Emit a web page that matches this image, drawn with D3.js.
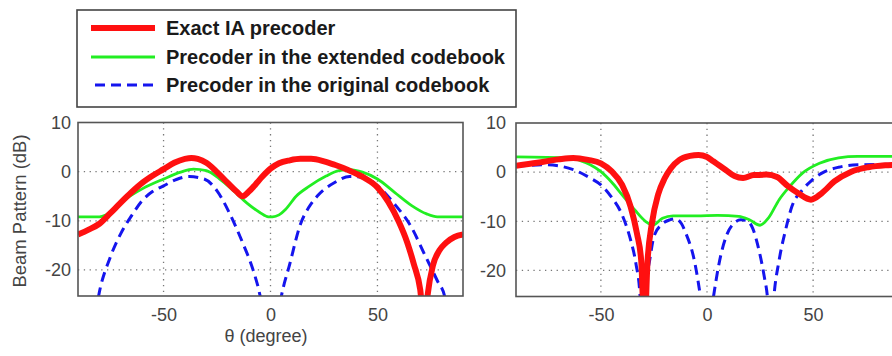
<!DOCTYPE html>
<html><head><meta charset="utf-8">
<script src="https://cdn.jsdelivr.net/npm/d3@7"></script>
<style>
body{margin:0;background:#fff;}
svg{display:block;font-family:"Liberation Sans",Arial,sans-serif;}
</style></head>
<body><svg id="c" width="892" height="356"></svg>
<script>
// ---------- data ----------
const xTicks = [-50, 0, 50];
const yTicks = [10, 0, -10, -20];
const legendLabels = ["Exact IA precoder", "Precoder in the extended codebook", "Precoder in the original codebook"];

// Left panel
const leftExactTheta = [-90,-85,-80,-75,-70,-65,-60,-55,-50,-45,-40,-37,-34,-30,-25,-20,-16,-13,-10,-7,-4,0,4,9,14,19,25,30,36,40,44,50,55,60,64,67,70,72,73.5,76,79,82,86,90];
const leftExactDb    = [-12.8,-11.8,-10.6,-8.5,-6.3,-4.2,-2.3,-0.8,0.5,1.8,2.6,2.8,2.6,1.8,-0.1,-2.3,-4.0,-5.0,-4.0,-2.6,-1.1,0.6,1.7,2.3,2.6,2.6,2.1,1.4,0.4,-0.4,-1.3,-3.2,-6.1,-10.2,-14.5,-18.8,-24,-32,-25,-19,-16,-14.5,-13.3,-12.8];
const leftExtTheta = [-90,-80,-77,-73,-68,-60,-50,-42,-36,-30,-24,-17,-11,-5,-1,1,4,7,12,18,26,32,37,43,50,58,66,73,78,90];
const leftExtDb    = [-9.2,-9.2,-8.8,-7.6,-5.7,-3.5,-1.5,-0.1,0.5,0.2,-1.4,-4.0,-6.4,-8.3,-9.2,-9.2,-8.8,-7.7,-5.0,-3.0,-0.9,0.2,0.4,-0.1,-1.5,-4.2,-6.9,-8.6,-9.2,-9.2];
const leftOrigTheta = [-83,-80,-75,-70,-65,-60,-55,-50,-44,-38,-31,-25,-19,-13,-8,-5,0,5,9,14,18,22,30,37,44,50,58,66,72,78,81.5,84];
const leftOrigDb    = [-32,-24.5,-17.5,-12.6,-9.0,-5.9,-4.0,-2.9,-1.6,-1.0,-1.5,-3.9,-8.6,-14.5,-20.2,-25,-40,-25.5,-18.8,-10.7,-7.2,-4.9,-2.2,-1.0,-1.2,-2.9,-6.6,-11.4,-16.8,-22.2,-25.5,-32];

// Right panel
const rightExactTheta = [-90,-80,-70,-63,-56,-50,-45,-40,-36,-33,-31,-29.5,-28,-26,-23,-20,-17,-13,-8,-4,0,3,6,9,13,17,22,28,33,38,43,49,54,60,68,76,84,90];
const rightExactDb    = [1.3,1.9,2.6,2.9,2.5,1.8,0.2,-2.6,-7,-12.5,-18,-32,-18,-10.5,-4.5,-1.3,0.8,2.5,3.3,3.5,3.1,2.2,1.3,0.4,-0.8,-1.2,-0.6,-0.5,-1.0,-2.8,-4.3,-5.6,-4.3,-1.9,0.1,1.0,1.4,1.5];
const rightExtTheta = [-90,-65,-60,-55,-50,-45,-40,-34,-29,-25.5,-21,-16,-5,5,15,20,25,29,34,39,45,53,62,71,90];
const rightExtDb    = [3.1,2.9,2.4,1.5,0.1,-2.0,-4.6,-7.7,-10.0,-10.8,-9.4,-8.9,-8.9,-8.8,-9.0,-9.7,-10.8,-9.3,-5.6,-2.9,-0.2,1.8,2.9,3.2,3.2];
const rightOrigTheta = [-90,-76,-63,-55,-50,-45,-40,-36,-33.5,-31.5,-30.5,-29.5,-27,-25,-21.5,-17.5,-15,-12,-10,-6,-3,0,3,6,9,12,16,18.5,21.5,24.5,27,28.5,30,31.5,34,37,40,45,49.5,55.5,62,71,90];
const rightOrigDb    = [1.2,1.5,0.5,-1.2,-2.6,-5.1,-8.7,-13.8,-18.6,-25.5,-35,-25.5,-17.9,-13.1,-10.7,-9.7,-9.5,-10.5,-12.4,-17.9,-25.5,-35,-25.5,-17.9,-13.1,-10.7,-9.7,-9.8,-11.4,-15.9,-21.3,-25.5,-35,-25.5,-17.9,-11.8,-7.0,-3.6,-1.6,0.1,1.0,1.5,1.6];

// ---------- drawing ----------
const svg = d3.select("#c");
const colors = {exact:"#ff1010", ext:"#22ee22", orig:"#1515ee"};

const panels = [
  {id:"L", left:78, right:463, top:122.5, bottom:296,
   series:[
     {t:leftOrigTheta, v:leftOrigDb, k:"orig"},
     {t:leftExtTheta, v:leftExtDb, k:"ext"},
     {t:leftExactTheta, v:leftExactDb, k:"exact"}]},
  {id:"R", left:516, right:898, top:123, bottom:296.5,
   series:[
     {t:rightOrigTheta, v:rightOrigDb, k:"orig"},
     {t:rightExtTheta, v:rightExtDb, k:"ext"},
     {t:rightExactTheta, v:rightExactDb, k:"exact"}]}
];

const styles = {
  exact:{w:6, dash:null},
  ext:{w:2.8, dash:null},
  orig:{w:3, dash:"10,6"}
};

panels.forEach(p=>{
  const x = d3.scaleLinear().domain([-90,90]).range([p.left,p.right]);
  const y = d3.scaleLinear().domain([-25.3,10]).range([p.bottom,p.top]);
  const g = svg.append("g");

  // grid
  g.append("g").selectAll("line").data(xTicks).join("line")
    .attr("x1",d=>x(d)).attr("x2",d=>x(d)).attr("y1",p.top).attr("y2",p.bottom)
    .attr("stroke","#777").attr("stroke-width",1.3).attr("stroke-dasharray","1.3,4.5");
  g.append("g").selectAll("line").data(yTicks.filter(d=>d<10)).join("line")
    .attr("x1",p.left).attr("x2",p.right).attr("y1",d=>y(d)).attr("y2",d=>y(d))
    .attr("stroke","#777").attr("stroke-width",1.3).attr("stroke-dasharray","1.3,4.5");

  // tick labels via axes
  const xa = g.append("g").attr("transform",`translate(0,${p.bottom})`)
    .call(d3.axisBottom(x).tickValues(xTicks).tickSize(0).tickPadding(12).tickFormat(d=>d));
  xa.select(".domain").remove();
  const ya = g.append("g").attr("transform",`translate(${p.left},0)`)
    .call(d3.axisLeft(y).tickValues(yTicks).tickSize(0).tickPadding(p.id==="L"?7:10).tickFormat(d=>d));
  ya.select(".domain").remove();
  g.selectAll(".tick text").attr("font-size",18).attr("fill","#444")
    .attr("font-family","'Liberation Sans',Arial,sans-serif");

  // clip
  g.append("clipPath").attr("id","clip"+p.id).append("rect")
    .attr("x",p.left).attr("y",p.top).attr("width",p.right-p.left).attr("height",p.bottom-p.top);

  const line = d3.line().x(d=>x(d[0])).y(d=>y(d[1])).curve(d3.curveMonotoneX);
  const lg = g.append("g").attr("clip-path",`url(#clip${p.id})`);
  p.series.forEach(s=>{
    const pts = s.t.map((t,i)=>[t,s.v[i]]);
    lg.append("path").attr("d",line(pts)).attr("fill","none")
      .attr("stroke",colors[s.k]).attr("stroke-width",styles[s.k].w)
      .attr("stroke-dasharray",styles[s.k].dash)
      .attr("stroke-linejoin","round");
  });

  // frame
  g.append("rect").attr("x",p.left).attr("y",p.top).attr("width",p.right-p.left).attr("height",p.bottom-p.top)
    .attr("fill","none").attr("stroke","#555").attr("stroke-width",1.6);
});

// axis titles
svg.append("text").attr("x",266).attr("y",342).attr("text-anchor","middle")
  .attr("font-size",18).attr("fill","#444").text("θ (degree)");
svg.append("text").attr("transform","translate(26,211) rotate(-90)").attr("text-anchor","middle")
  .attr("font-size",18.5).attr("fill","#444").text("Beam Pattern (dB)");

// legend
const lgd = svg.append("g");
lgd.append("rect").attr("x",77).attr("y",10).attr("width",439).attr("height",97)
  .attr("fill","#fff").attr("stroke","#444").attr("stroke-width",1.6);
const legKeys = ["exact","ext","orig"];
const rowY = [28,57,85];
legKeys.forEach((k,i)=>{
  lgd.append("line").attr("x1",k==="orig"?95:91).attr("x2",155).attr("y1",rowY[i]).attr("y2",rowY[i])
    .attr("stroke",colors[k]).attr("stroke-width",styles[k].w).attr("stroke-dasharray",styles[k].dash);
  lgd.append("text").attr("x",166).attr("y",rowY[i]+7).attr("font-size",20).attr("font-weight","bold")
    .attr("fill","#1a1a1a").text(legendLabels[i]);
});
</script></body></html>
